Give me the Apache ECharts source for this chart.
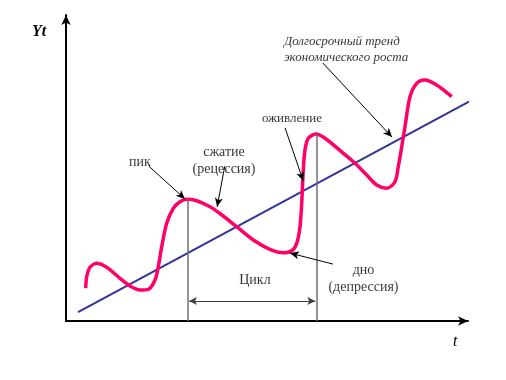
<!DOCTYPE html>
<html><head><meta charset="utf-8">
<script src="https://cdn.jsdelivr.net/npm/echarts@6/dist/echarts.min.js"></script>
<style>html,body{margin:0;padding:0;background:#fff}#c{width:506px;height:380px}</style>
</head><body><div id="c"></div>
<script>
// Business cycle curve (t, Yt)
const cycleT = [4.9, 5.15, 5.97, 7.64, 10.12, 13.43, 15.92, 18.41, 20.47, 22.14, 22.96, 23.81, 25.05, 26.69, 28.36, 30.02, 32.51, 35.82, 38.31, 42.46, 46.59, 50.75, 54.05, 56.14, 57.39, 58.21, 58.63, 59.03, 59.45, 60.27, 62.19, 64.43, 68.98, 71.89, 74.8, 77.29, 79.78, 81.84, 82.66, 83.51, 84.33, 85.57, 87.24, 89.3, 92.21, 95.95];
const cycleY = [10.69, 14.48, 17.55, 18.86, 17.55, 13.95, 11.44, 10.13, 10.36, 13.4, 17.75, 24.28, 31.93, 36.83, 38.99, 39.77, 39.31, 37.35, 35.13, 30.82, 26.47, 23.43, 22.32, 22.97, 25.39, 30.82, 38.46, 49.35, 55.88, 59.71, 61.11, 59.71, 54.8, 51.54, 47.71, 44.44, 43.37, 45.52, 50.42, 56.96, 63.5, 73.3, 77.68, 78.76, 77.12, 73.3];
// Long-term trend
const trendT = [3.0, 104.2];
const trendY = [2.9, 74.5];
// Cycle boundaries (peak to peak)
const cycleBoundT = [30.3, 62.3];
const cycleBoundY = [39.8, 61.1];
const cycleArrowY = 6.5;
// Texts
const axisYName = 'Yt';
const axisXName = 't';
const trendText = ['Долгосрочный тренд', 'экономического роста'];
const peakText = 'пик';
const recessionText = ['сжатие', '(рецессия)'];
const revivalText = 'оживление';
const troughText = ['дно', '(депрессия)'];
const cycleText = 'Цикл';

const serif = '"Liberation Serif","DejaVu Serif",serif';

const chart = echarts.init(document.getElementById('c'), null, {renderer: 'canvas'});

const curve = cycleT.map((t, i) => [t, cycleY[i]]);
const trend = trendT.map((t, i) => [t, trendY[i]]);

// annotation layout (data coordinates)
const notes = [
  {value: [54.2, 88.7], text: trendText.join('\n'), italic: true, size: 13, align: 'left'},
  {value: [18.4, 51.9], text: peakText, size: 14},
  {value: [39.3, 52.4], text: recessionText.join('\n'), size: 14},
  {value: [56.2, 66.3], text: revivalText, size: 13},
  {value: [74.0, 13.9], text: troughText.join('\n'), size: 14},
  {value: [47.0, 13.4], text: cycleText, size: 14}
];
const arrows = [
  [[63.9, 84.3], [81.1, 60.1]],
  [[54.5, 63.1], [59.0, 45.8]],
  [[39.5, 50.6], [37.6, 37.3]],
  [[20.6, 50.6], [29.6, 39.9]],
  [[66.4, 18.6], [55.7, 22.2]]
];

const axisCommon = {
  type: 'value', min: 0, max: 100,
  splitLine: {show: false}, axisTick: {show: false}, axisLabel: {show: false},
  axisLine: {show: true, onZero: false, symbol: ['none', 'arrow'], symbolSize: [7, 10], symbolOffset: [0, 0],
    lineStyle: {color: '#000', width: 2}}
};

chart.setOption({
  animation: false,
  backgroundColor: '#fff',
  grid: {left: 66, right: 38, top: 15, bottom: 59},
  xAxis: Object.assign({}, axisCommon),
  yAxis: Object.assign({}, axisCommon),
  graphic: [
    {type: 'text', left: 32, top: 24, style: {text: axisYName, font: 'italic bold 16px ' + serif, fill: '#000'}},
    {type: 'text', left: 453, top: 334, style: {text: axisXName, font: 'italic 16px ' + serif, fill: '#000'}}
  ],
  series: [
    {
      type: 'line', name: 'bounds', data: [], symbol: 'none', silent: true,
      markLine: {
        silent: true, symbol: ['none', 'none'], label: {show: false},
        lineStyle: {color: '#707070', width: 1.5, type: 'solid'},
        data: cycleBoundT.map((t, i) => [{coord: [t, 0]}, {coord: [t, cycleBoundY[i]]}])
      }
    },
    {
      type: 'line', name: 'cycleArrow', data: [], symbol: 'none', silent: true,
      markLine: {
        silent: true, symbol: ['arrow', 'arrow'], symbolSize: [6, 8], label: {show: false},
        lineStyle: {color: '#404040', width: 1, type: 'solid'},
        data: [[{coord: [cycleBoundT[0] + 0.3, cycleArrowY]}, {coord: [cycleBoundT[1] - 0.3, cycleArrowY]}]]
      }
    },
    {
      type: 'line', name: 'trend', data: trend, symbol: 'none', clip: false,
      lineStyle: {color: '#333399', width: 2}
    },
    {
      type: 'line', name: 'cycle', data: curve, symbol: 'none', smooth: 0.3, clip: false,
      lineStyle: {color: '#FF0066', width: 3.5}
    },
    {
      type: 'line', name: 'arrows', data: [], symbol: 'none', silent: true,
      markLine: {
        silent: true, symbol: ['none', 'arrow'], symbolSize: [6, 9], label: {show: false},
        lineStyle: {color: '#000', width: 1, type: 'solid'},
        data: arrows.map(a => [{coord: a[0]}, {coord: a[1]}])
      }
    },
    {
      type: 'scatter', name: 'notes', symbolSize: 0, silent: true, clip: false,
      data: notes.map(n => ({
        value: n.value,
        label: {
          show: true, position: 'inside', formatter: n.text,
          align: n.align || 'center', verticalAlign: 'middle',
          fontFamily: serif, fontSize: n.size, fontStyle: n.italic ? 'italic' : 'normal',
          lineHeight: n.size + 3, color: '#000'
        }
      }))
    }
  ]
});
</script>
</body></html>
